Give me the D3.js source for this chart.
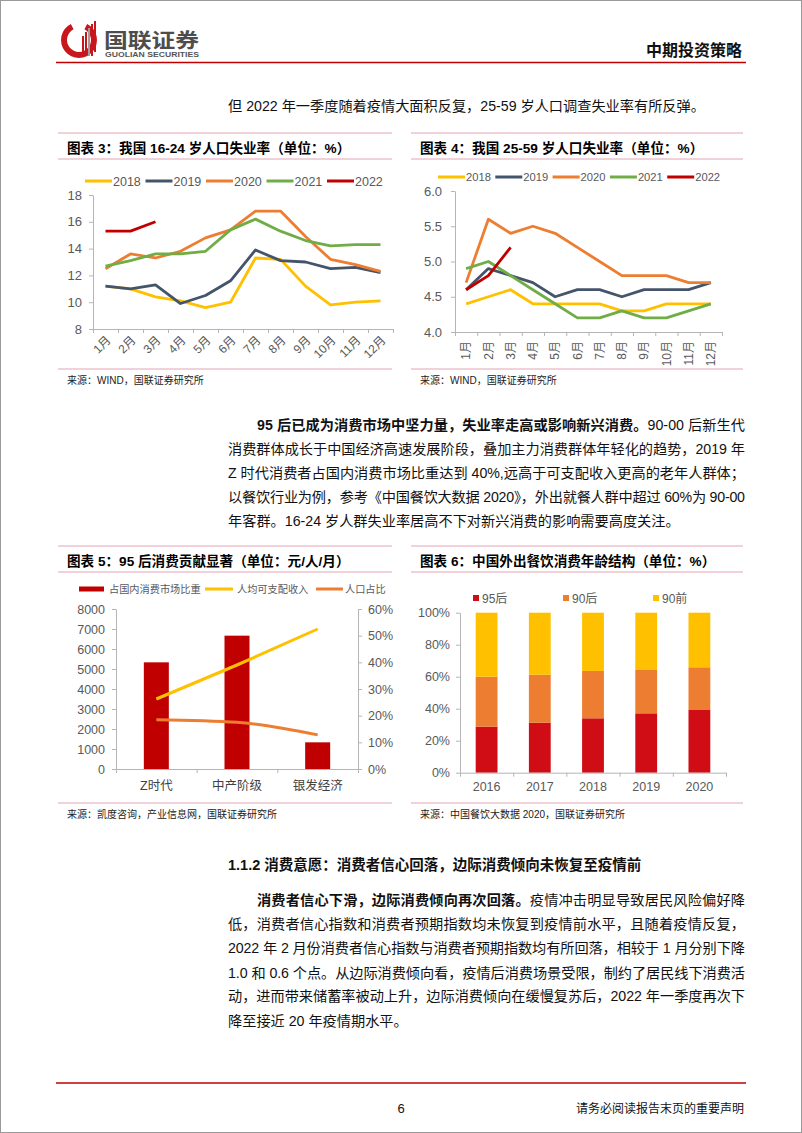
<!DOCTYPE html>
<html><head><meta charset="utf-8">
<script src="https://cdn.jsdelivr.net/npm/d3@7"></script>
<style>
body{margin:0;background:#fff;}
svg{display:block;}
</style></head><body>
<svg id="page" width="802" height="1133"></svg>
<script>
// ---------------- DATA ----------------
const months = ["1月","2月","3月","4月","5月","6月","7月","8月","9月","10月","11月","12月"];
const seriesYears = ["2018","2019","2020","2021","2022"];
// 16-24 岁人口失业率
const youth2018 = [11.2,11.0,10.4,10.1,9.6,10.0,13.3,13.2,11.2,9.8,10.0,10.1];
const youth2019 = [11.2,11.0,11.3,9.9,10.5,11.6,13.9,13.1,13.0,12.5,12.6,12.2];
const youth2020 = [12.5,13.6,13.3,13.8,14.8,15.4,16.8,16.8,14.9,13.2,12.8,12.3];
const youth2021 = [12.7,13.1,13.6,13.6,13.8,15.4,16.2,15.3,14.6,14.2,14.3,14.3];
const youth2022 = [15.3,15.3,16.0];
const youthTicks = [8,10,12,14,16,18];
// 25-59 岁人口失业率
const prime2018 = [4.4,4.5,4.6,4.4,4.4,4.4,4.4,4.3,4.3,4.4,4.4,4.4];
const prime2019 = [4.6,4.9,4.8,4.7,4.5,4.6,4.6,4.5,4.6,4.6,4.6,4.7];
const prime2020 = [4.7,5.6,5.4,5.5,5.4,5.2,5.0,4.8,4.8,4.8,4.7,4.7];
const prime2021 = [4.9,5.0,4.8,4.6,4.4,4.2,4.2,4.3,4.2,4.2,4.3,4.4];
const prime2022 = [4.6,4.8,5.2];
const primeTicks = [4.0,4.5,5.0,5.5,6.0];
// 95 后消费贡献
const segments = ["Z时代","中产阶级","银发经济"];
const marketShare = [40,50,10];          // 占国内消费市场比重 (%)
const disposableIncome = [3500,5200,7000]; // 人均可支配收入 (元/人/月)
const populationShare = [18.5,17.5,12.8];  // 人口占比 (%)
const incomeTicks = [0,1000,2000,3000,4000,5000,6000,7000,8000];
const shareTicks = [0,10,20,30,40,50,60];
// 外出餐饮消费年龄结构
const diningYears = ["2016","2017","2018","2019","2020"];
const post95 = [28.8,31.2,34.0,37.1,39.2];
const post90 = [31.2,30.0,29.6,27.1,26.7];
const pre90  = [40.0,38.8,36.4,35.8,34.1];
const ageGroups = ["95后","90后","90前"];
const pctTicks = [0,20,40,60,80,100];

// ---------------- STYLE ----------------
const lineColors = ["#FFC000","#44546A","#ED7D31","#70AD47","#C00000"];
const stackColors = ["#D00D14","#ED7D31","#FFC000"];
const pink = "#E3A2B4";
const axisColor = "#B5B5B5";
const tickText = "#595959";
const FONT = "'Liberation Sans', Arial, 'Noto Sans CJK SC', sans-serif";

const svg = d3.select("#page").attr("font-family", FONT);
svg.append("rect").attr("x",0.5).attr("y",0.5).attr("width",801).attr("height",1132)
  .attr("fill","#fff").attr("stroke","#9a9a9a");

// ---------------- HEADER ----------------
const logo = svg.append("g");
logo.append("path")
  .attr("d", d3.arc()({innerRadius:12, outerRadius:18, startAngle:Math.PI*0.15, endAngle:Math.PI*1.85}))
  .attr("transform","translate(79,40)").attr("fill","#C8161D");
[[82,36,56,"#C8161D"],[85,32,56,"#C8161D"],[88,28,56,"#9e9e9e"],[91,24,56,"#C8161D"],[94,21,52,"#C8161D"]]
  .forEach(b=>logo.append("rect").attr("x",b[0]).attr("y",b[1]).attr("width",2).attr("height",b[2]-b[1]).attr("fill",b[3]));
svg.append("text").attr("x",104).attr("y",48).attr("font-size",20).attr("font-weight","bold")
  .attr("fill","#4d4d4d").attr("textLength",95).attr("lengthAdjust","spacingAndGlyphs").text("国联证券");
svg.append("text").attr("x",105).attr("y",57).attr("font-size",7).attr("font-weight","bold")
  .attr("fill","#555").attr("textLength",94).attr("lengthAdjust","spacingAndGlyphs").text("GUOLIAN SECURITIES");
svg.append("text").attr("x",742).attr("y",56).attr("text-anchor","end").attr("font-size",16)
  .attr("font-weight","bold").attr("fill","#111").text("中期投资策略");
svg.append("line").attr("x1",56).attr("x2",746).attr("y1",62.5).attr("y2",62.5)
  .attr("stroke","#C00000").attr("stroke-width",1.5);

// ---------------- PARAGRAPH HELPER ----------------
function textLine(x, y, parts, width, size) {
  const t = svg.append("text").attr("x",x).attr("y",y).attr("font-size",size||14.2).attr("fill","#111");
  parts.forEach(p=>{
    t.append("tspan").attr("font-weight", p[1] ? "bold" : "normal").text(p[0]);
  });
  if (width) t.attr("textLength",width).attr("lengthAdjust","spacing");
  return t;
}
const L = 228, R = 745;
textLine(L, 111, [["但 2022 年一季度随着疫情大面积反复，25-59 岁人口调查失业率有所反弹。",0]]);

textLine(257, 430, [["95 后已成为消费市场中坚力量，失业率走高或影响新兴消费。",1],["90-00 后新生代",0]], R-257);
textLine(L, 454, [["消费群体成长于中国经济高速发展阶段，叠加主力消费群体年轻化的趋势，2019 年",0]], R-L);
textLine(L, 478, [["Z 时代消费者占国内消费市场比重达到 40%,远高于可支配收入更高的老年人群体；",0]], R-L);
textLine(L, 502, [["以餐饮行业为例，参考《中国餐饮大数据 2020》，外出就餐人群中超过 60%为 90-00",0]], R-L);
textLine(L, 526, [["年客群。16-24 岁人群失业率居高不下对新兴消费的影响需要高度关注。",0]]);

textLine(L, 870, [["1.1.2 消费意愿：消费者信心回落，边际消费倾向未恢复至疫情前",1]], null, 14.5);
textLine(257, 905, [["消费者信心下滑，边际消费倾向再次回落。",1],["疫情冲击明显导致居民风险偏好降",0]], R-257);
textLine(L, 929, [["低，消费者信心指数和消费者预期指数均未恢复到疫情前水平，且随着疫情反复，",0]], R-L);
textLine(L, 953, [["2022 年 2 月份消费者信心指数与消费者预期指数均有所回落，相较于 1 月分别下降",0]], R-L);
textLine(L, 978, [["1.0 和 0.6 个点。从边际消费倾向看，疫情后消费场景受限，制约了居民线下消费活",0]], R-L);
textLine(L, 1001, [["动，进而带来储蓄率被动上升，边际消费倾向在缓慢复苏后，2022 年一季度再次下",0]], R-L);
textLine(L, 1026, [["降至接近 20 年疫情期水平。",0]]);

svg.append("line").attr("x1",56).attr("x2",746).attr("y1",1083).attr("y2",1083)
  .attr("stroke","#C00000").attr("stroke-width",1.5);
svg.append("text").attr("x",401).attr("y",1113).attr("text-anchor","middle").attr("font-size",13).attr("fill","#111").text("6");
svg.append("text").attr("x",744).attr("y",1113).attr("text-anchor","end").attr("font-size",12).attr("fill","#111").text("请务必阅读报告末页的重要声明");

// ---------------- PANEL HELPER ----------------
function panel(x0, x1, yTop, title, ySrcLine, source) {
  svg.append("line").attr("x1",x0).attr("x2",x1).attr("y1",yTop).attr("y2",yTop).attr("stroke",pink);
  svg.append("line").attr("x1",x0).attr("x2",x1).attr("y1",yTop+26).attr("y2",yTop+26).attr("stroke",pink);
  svg.append("text").attr("x",x0+9).attr("y",yTop+20).attr("font-size",13.6).attr("font-weight","bold")
    .attr("fill","#000").text(title);
  svg.append("line").attr("x1",x0).attr("x2",x1).attr("y1",ySrcLine).attr("y2",ySrcLine).attr("stroke",pink);
  svg.append("text").attr("x",x0+9).attr("y",ySrcLine+15).attr("font-size",10).attr("fill","#222").text(source);
}
function styleAxis(g, size) {
  g.attr("font-family", FONT).attr("font-size", size);
  g.select(".domain").attr("stroke", axisColor);
  g.selectAll(".tick line").attr("stroke", axisColor);
  g.selectAll(".tick text").attr("fill", tickText);
}

// ---------------- LINE CHARTS ----------------
function lineChart(cfg) {
  const g = svg.append("g");
  const x = d3.scaleBand().domain(months).range([cfg.x0, cfg.x1]);
  const y = d3.scaleLinear().domain(cfg.yDomain).range([cfg.yBottom, cfg.yTop]);
  const xi = d3.scaleLinear().domain([0, months.length]).range([cfg.x0, cfg.x1]);

  const ya = g.append("g").attr("transform",`translate(${cfg.x0},0)`)
    .call(d3.axisLeft(y).tickValues(cfg.yTicks).tickFormat(cfg.yFormat).tickSize(4).tickSizeOuter(0).tickPadding(cfg.yPad));
  styleAxis(ya, 13);
  const xe = g.append("g").attr("transform",`translate(0,${cfg.yBottom})`)
    .call(d3.axisBottom(xi).tickValues(d3.range(months.length+1)).tickFormat("").tickSize(4).tickSizeOuter(0));
  styleAxis(xe, 12);
  const xl = g.append("g").attr("transform",`translate(0,${cfg.yBottom})`)
    .call(d3.axisBottom(x).tickSize(0));
  xl.select(".domain").remove();
  styleAxis(xl, 12);
  xl.selectAll(".tick text").attr("y",0).attr("dy","0.35em").attr("text-anchor","end")
    .attr("transform", cfg.labelTransform);

  const line = d3.line().x((d,i)=>x(months[i]) + x.bandwidth()/2).y(d=>y(d));
  cfg.series.forEach((s,i)=>{
    g.append("path").attr("d", line(s)).attr("fill","none").attr("stroke", lineColors[i])
      .attr("stroke-width",2.8).attr("stroke-linejoin","round");
  });
  // legend
  seriesYears.forEach((yr,i)=>{
    const lx = cfg.legX + i*cfg.legStep;
    g.append("line").attr("x1",lx).attr("x2",lx+27).attr("y1",cfg.legY).attr("y2",cfg.legY)
      .attr("stroke",lineColors[i]).attr("stroke-width",3);
    g.append("text").attr("x",lx+28).attr("y",cfg.legY+0.36*cfg.legFont).attr("font-size",cfg.legFont)
      .attr("fill",tickText).text(yr);
  });
}

panel(58, 392, 133, "图表 3：我国 16-24 岁人口失业率（单位：%）", 369, "来源：WIND，国联证券研究所");
lineChart({x0:93, x1:393, yTop:195, yBottom:329, yDomain:[8,18], yTicks:youthTicks, yFormat:d3.format("d"), yPad:7,
  series:[youth2018,youth2019,youth2020,youth2021,youth2022],
  labelTransform:"translate(3,9) rotate(-45)", legX:85, legStep:60.5, legY:181, legFont:12.5});

panel(411, 743, 133, "图表 4：我国 25-59 岁人口失业率（单位：%）", 369, "来源：WIND，国联证券研究所");
lineChart({x0:455, x1:722, yTop:191, yBottom:332, yDomain:[4,6], yTicks:primeTicks, yFormat:d3.format(".1f"), yPad:9,
  series:[prime2018,prime2019,prime2020,prime2021,prime2022],
  labelTransform:"translate(0,9) rotate(-90)", legX:438, legStep:57.3, legY:177, legFont:11.2});

// ---------------- CHART 5 ----------------
(function(){
  panel(58, 392, 546, "图表 5：95 后消费贡献显著（单位：元/人/月）", 803, "来源：凯度咨询，产业信息网，国联证券研究所");
  const g = svg.append("g");
  const x0 = 116, x1 = 358, yB = 769, yT = 609;
  const x = d3.scaleBand().domain(segments).range([x0, x1]);
  const yL = d3.scaleLinear().domain([0,8000]).range([yB, yT]);
  const yR = d3.scaleLinear().domain([0,60]).range([yB, yT]);
  const bw = x.bandwidth()*0.31;
  g.selectAll("rect.bar").data(marketShare).join("rect").attr("class","bar")
    .attr("x",(d,i)=>x(segments[i]) + x.bandwidth()/2 - bw/2).attr("width",bw)
    .attr("y",d=>yR(d)).attr("height",d=>yB - yR(d)).attr("fill","#C00000");
  const cx = i => x(segments[i]) + x.bandwidth()/2;
  g.append("path").attr("d", d3.line().x((d,i)=>cx(i)).y(d=>yL(d))(disposableIncome))
    .attr("fill","none").attr("stroke","#FFC000").attr("stroke-width",3);
  g.append("path").attr("d", d3.line().curve(d3.curveMonotoneX).x((d,i)=>cx(i)).y(d=>yR(d))(populationShare))
    .attr("fill","none").attr("stroke","#ED7D31").attr("stroke-width",3);

  const al = g.append("g").attr("transform",`translate(${x0},0)`)
    .call(d3.axisLeft(yL).tickValues(incomeTicks).tickFormat(d3.format("d")).tickSize(4).tickSizeOuter(0).tickPadding(7));
  styleAxis(al, 12.5);
  const ar = g.append("g").attr("transform",`translate(${x1},0)`)
    .call(d3.axisRight(yR).tickValues(shareTicks).tickFormat(d=>d+"%").tickSize(4).tickSizeOuter(0).tickPadding(6));
  styleAxis(ar, 12.5);
  const xi = d3.scaleLinear().domain([0,segments.length]).range([x0,x1]);
  const xe = g.append("g").attr("transform",`translate(0,${yB})`)
    .call(d3.axisBottom(xi).tickValues(d3.range(segments.length+1)).tickFormat("").tickSize(4).tickSizeOuter(0));
  styleAxis(xe, 12);
  const xl = g.append("g").attr("transform",`translate(0,${yB})`).call(d3.axisBottom(x).tickSize(0));
  xl.select(".domain").remove();
  styleAxis(xl, 12.5);
  xl.selectAll(".tick text").attr("y",12).attr("fill","#404040");

  // legend
  const ly = 589;
  g.append("rect").attr("x",79).attr("y",ly-2.5).attr("width",25).attr("height",5).attr("fill","#C00000");
  g.append("text").attr("x",109).attr("y",ly+3.7).attr("font-size",10.2).attr("fill",tickText).text("占国内消费市场比重");
  g.append("line").attr("x1",205).attr("x2",233).attr("y1",ly).attr("y2",ly).attr("stroke","#FFC000").attr("stroke-width",3);
  g.append("text").attr("x",237).attr("y",ly+3.7).attr("font-size",10.2).attr("fill",tickText).text("人均可支配收入");
  g.append("line").attr("x1",316).attr("x2",343).attr("y1",ly).attr("y2",ly).attr("stroke","#ED7D31").attr("stroke-width",3);
  g.append("text").attr("x",345).attr("y",ly+3.7).attr("font-size",10.2).attr("fill",tickText).text("人口占比");
})();

// ---------------- CHART 6 ----------------
(function(){
  panel(411, 743, 546, "图表 6：中国外出餐饮消费年龄结构（单位：%）", 803, "来源：中国餐饮大数据 2020，国联证券研究所");
  const g = svg.append("g");
  const x0 = 460, x1 = 726, yB = 772.7, yT = 612.7;
  const x = d3.scaleBand().domain(diningYears).range([x0, x1]);
  const y = d3.scaleLinear().domain([0,100]).range([yB, yT]);
  const rows = diningYears.map((yr,i)=>({year:yr, "95后":post95[i], "90后":post90[i], "90前":pre90[i]}));
  const stacked = d3.stack().keys(ageGroups)(rows);
  const bw = x.bandwidth()*0.41;
  stacked.forEach((layer,k)=>{
    g.selectAll(null).data(layer).join("rect")
      .attr("x",d=>x(d.data.year) + x.bandwidth()/2 - bw/2).attr("width",bw)
      .attr("y",d=>y(d[1])).attr("height",d=>y(d[0]) - y(d[1])).attr("fill",stackColors[k]);
  });
  const ay = g.append("g").attr("transform",`translate(${x0},0)`)
    .call(d3.axisLeft(y).tickValues(pctTicks).tickFormat(d=>d+"%").tickSize(4).tickSizeOuter(0).tickPadding(6));
  styleAxis(ay, 12.5);
  const xi = d3.scaleLinear().domain([0,diningYears.length]).range([x0,x1]);
  const xe = g.append("g").attr("transform",`translate(0,${yB})`)
    .call(d3.axisBottom(xi).tickValues(d3.range(diningYears.length+1)).tickFormat("").tickSize(4).tickSizeOuter(0));
  styleAxis(xe, 12);
  const xl = g.append("g").attr("transform",`translate(0,${yB})`).call(d3.axisBottom(x).tickSize(0));
  xl.select(".domain").remove();
  styleAxis(xl, 12.5);
  xl.selectAll(".tick text").attr("y",9);

  const legX = [473, 563, 653];
  ageGroups.forEach((k,i)=>{
    g.append("rect").attr("x",legX[i]).attr("y",595).attr("width",6).attr("height",6).attr("fill",stackColors[i]);
    g.append("text").attr("x",legX[i]+9).attr("y",602.5).attr("font-size",12).attr("fill",tickText).text(k);
  });
})();
</script>
</body></html>
